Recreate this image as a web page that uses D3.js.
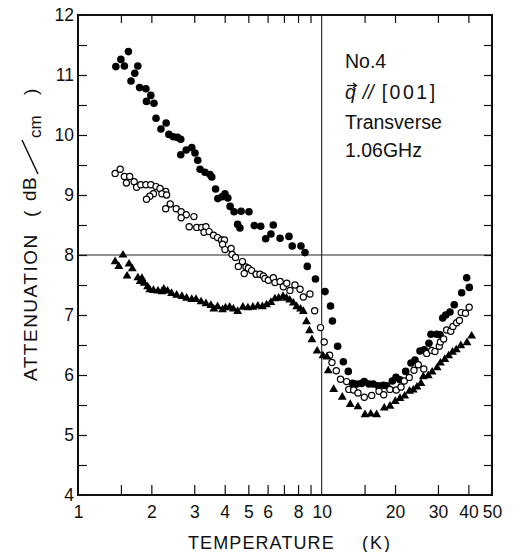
<!DOCTYPE html>
<html>
<head>
<meta charset="utf-8">
<script src="https://cdn.jsdelivr.net/npm/d3@7"></script>
<style>
  html, body { margin: 0; padding: 0; background: #fff; }
  svg { display: block; }
  text { font-family: "Liberation Sans", Arial, sans-serif; fill: #111; }
</style>
</head>
<body>
<svg id="chart" width="515" height="552"></svg>
<script>
// Ultrasonic attenuation vs temperature, sample No.4, transverse wave at 1.06 GHz
// Each series: [temperature (K), attenuation (dB/cm)]
const filledCircles = [
  [1.43,11.14],[1.50,11.26],[1.55,11.15],[1.61,11.39],[1.65,10.90],[1.71,11.03],[1.76,11.15],
  [1.79,10.79],[1.90,10.77],[1.91,10.56],[1.99,10.66],[2.05,10.53],[2.09,10.28],[2.19,10.10],
  [2.30,10.20],[2.36,10.01],[2.46,9.97],[2.56,9.96],[2.64,9.93],[2.64,9.67],[2.78,9.75],
  [2.93,9.79],[3.02,9.70],[3.10,9.58],[3.17,9.43],[3.32,9.38],[3.48,9.34],[3.54,9.30],
  [3.67,9.10],[3.75,8.94],[3.90,8.97],[4.01,9.02],[4.12,8.95],[4.21,8.81],[4.37,8.72],
  [4.67,8.73],[5.03,8.72],[4.52,8.51],[4.62,8.45],[5.29,8.49],[5.62,8.48],[5.89,8.27],
  [6.19,8.35],[6.33,8.50],[6.75,8.28],[7.34,8.31],[7.57,8.15],[8.22,8.15],[8.54,8.04],
  [8.73,7.81],[9.43,7.60],[10.32,7.39],[10.87,7.15],[11.07,6.90],[11.63,6.48],[12.27,6.22],
  [12.86,6.06],[13.41,5.86],[13.92,5.85],[14.59,5.86],[14.96,5.89],[15.64,5.85],[16.28,5.85],
  [17.07,5.82],[17.90,5.83],[18.48,5.82],[19.49,5.90],[20.18,5.96],[20.96,5.92],[22.12,6.06],
  [23.25,6.20],[24.15,6.25],[25.32,6.40],[26.36,6.42],[27.56,6.53],[28.09,6.68],[29.65,6.68],
  [30.59,6.67],[31.38,6.95],[32.28,7.00],[33.61,7.05],[35.00,7.17],[37.54,7.37],[39.36,7.62],
  [40.34,7.46]
];

const openCircles = [
  [1.42,9.36],[1.49,9.43],[1.55,9.31],[1.63,9.31],[1.58,9.20],[1.70,9.22],[1.74,9.13],
  [1.81,9.17],[1.90,9.17],[1.99,9.17],[2.09,9.14],[2.17,9.11],[2.29,9.06],[2.21,9.02],
  [2.31,9.00],[2.04,9.02],[1.97,8.98],[1.91,8.93],[2.39,8.85],[2.29,8.77],[2.53,8.77],
  [2.65,8.72],[2.78,8.67],[2.65,8.62],[2.99,8.64],[2.86,8.47],[3.07,8.46],[3.22,8.46],
  [3.35,8.47],[3.29,8.38],[3.45,8.39],[3.60,8.33],[3.74,8.29],[3.88,8.25],[3.99,8.25],
  [3.92,8.18],[4.01,8.09],[4.25,8.11],[4.29,8.01],[4.43,7.96],[4.55,7.81],[4.73,7.89],
  [4.89,7.80],[4.81,7.69],[5.00,7.78],[5.16,7.74],[5.38,7.68],[5.58,7.68],[5.76,7.65],
  [5.85,7.61],[6.04,7.58],[6.33,7.62],[6.43,7.54],[6.75,7.56],[6.96,7.47],[7.19,7.53],
  [7.41,7.41],[7.77,7.50],[8.15,7.43],[8.41,7.30],[8.95,7.35],[9.36,7.07],[9.89,6.79],
  [10.24,6.55],[10.78,6.33],[11.02,6.21],[11.48,6.07],[11.95,5.93],[12.66,5.89],[12.92,5.76],
  [13.53,5.75],[14.09,5.70],[14.96,5.63],[16.04,5.66],[17.19,5.73],[17.97,5.67],[19.06,5.76],
  [20.24,5.75],[21.16,5.80],[21.83,5.90],[22.88,5.96],[23.92,6.08],[24.91,6.17],[26.24,6.10],
  [26.97,6.36],[28.28,6.41],[29.17,6.39],[30.38,6.48],[30.72,6.55],[31.66,6.60],[32.58,6.75],
  [33.86,6.73],[34.58,6.81],[35.80,6.87],[36.76,6.91],[37.40,7.04],[38.90,7.03],[40.30,7.13]
];

const filledTriangles = [
  [1.42,7.89],[1.53,8.00],[1.47,7.81],[1.62,7.85],[1.67,7.77],[1.59,7.65],[1.76,7.62],
  [1.83,7.61],[1.80,7.56],[1.87,7.53],[1.93,7.47],[1.97,7.42],[2.04,7.41],[2.13,7.40],
  [2.21,7.39],[2.25,7.43],[2.33,7.40],[2.42,7.36],[2.54,7.33],[2.67,7.31],[2.79,7.28],
  [2.93,7.26],[3.05,7.26],[3.20,7.22],[3.35,7.19],[3.51,7.16],[3.61,7.10],[3.74,7.14],
  [3.92,7.09],[4.03,7.12],[4.19,7.13],[4.34,7.10],[4.52,7.06],[4.75,7.13],[4.98,7.12],
  [5.22,7.13],[5.47,7.15],[5.71,7.14],[5.94,7.17],[6.19,7.21],[6.43,7.27],[6.66,7.28],
  [6.94,7.31],[7.17,7.28],[7.39,7.25],[7.65,7.20],[7.90,7.14],[8.19,7.10],[8.41,7.06],
  [8.66,6.89],[8.91,6.74],[9.12,6.59],[9.58,6.40],[10.12,6.32],[10.51,6.30],[10.64,6.07],
  [11.20,5.76],[12.15,5.63],[13.10,5.51],[14.09,5.47],[15.06,5.34],[15.90,5.35],[16.81,5.34],
  [18.07,5.45],[19.06,5.48],[20.04,5.56],[20.96,5.61],[21.91,5.65],[22.93,5.73],[23.76,5.75],
  [24.61,5.80],[25.55,5.86],[26.12,5.97],[27.38,5.99],[28.40,6.05],[29.78,6.12],[30.72,6.20],
  [32.00,6.26],[33.20,6.32],[34.42,6.38],[35.67,6.42],[37.23,6.49],[39.48,6.54],[41.26,6.65]
];

// Axis ticks and labels
const xTickValues = [1.5, 2, 3, 4, 5, 6, 7, 8, 9, 15, 20, 30, 40];
const xLabelValues = [1, 2, 3, 4, 5, 6, 8, 10, 20, 30, 40, 50];
const yTickValues = [4.5, 5, 5.5, 6, 6.5, 7, 7.5, 8, 8.5, 9, 9.5, 10, 10.5, 11, 11.5];
const yLabelValues = [4, 5, 6, 7, 8, 9, 10, 11, 12];
const xDomain = [1, 50];
const yDomain = [4, 12];
const refTemperature = 10;
const refAttenuation = 8;

const svg = d3.select("#chart");
const padL = 78, padR = 492, padT = 15, padB = 495;

const x = d3.scaleLog().domain(xDomain).range([padL, padR]);
const y = d3.scaleLinear().domain(yDomain).range([padB, padT]);

// Reference cross lines
svg.append("line")
  .attr("x1", x(refTemperature)).attr("x2", x(refTemperature))
  .attr("y1", padT).attr("y2", padB)
  .attr("stroke", "#222").attr("stroke-width", 1.1);
svg.append("line")
  .attr("x1", padL).attr("x2", padR)
  .attr("y1", y(refAttenuation)).attr("y2", y(refAttenuation))
  .attr("stroke", "#222").attr("stroke-width", 1.1);

// Inward ticks on all four sides
function styleTicks(g) {
  g.select(".domain").remove();
  g.selectAll(".tick line").attr("stroke", "#111").attr("stroke-width", 1.2);
  g.selectAll(".tick text").remove();
}
svg.append("g").attr("transform", `translate(0,${padB})`)
  .call(d3.axisBottom(x).tickValues(xTickValues).tickSize(-10))
  .call(styleTicks);
svg.append("g").attr("transform", `translate(0,${padT})`)
  .call(d3.axisTop(x).tickValues(xTickValues).tickSize(-8))
  .call(styleTicks);
svg.append("g").attr("transform", `translate(${padL},0)`)
  .call(d3.axisLeft(y).tickValues(yTickValues).tickSize(-9))
  .call(styleTicks);
svg.append("g").attr("transform", `translate(${padR},0)`)
  .call(d3.axisRight(y).tickValues(yTickValues).tickSize(-8))
  .call(styleTicks);

// Tick labels
const xLab = svg.append("g").attr("transform", `translate(0,${padB})`)
  .call(d3.axisBottom(x).tickValues(xLabelValues).tickSize(0).tickPadding(11).tickFormat(d3.format("d")));
xLab.select(".domain").remove();
xLab.selectAll("text").style("font-size", "17.5px").attr("fill", "#111");

const yLab = svg.append("g").attr("transform", `translate(${padL},0)`)
  .call(d3.axisLeft(y).tickValues(yLabelValues).tickSize(0).tickPadding(4).tickFormat(d3.format("d")));
yLab.select(".domain").remove();
yLab.selectAll("text").style("font-size", "17.5px").attr("fill", "#111");
svg.selectAll("g").attr("font-family", null).attr("font-size", null);

// Frame
svg.append("rect")
  .attr("x", padL).attr("y", padT)
  .attr("width", padR - padL).attr("height", padB - padT)
  .attr("fill", "none").attr("stroke", "#111").attr("stroke-width", 2);

// Data markers
const plot = svg.append("g");
plot.selectAll("circle.filled").data(filledCircles).join("circle")
  .attr("class", "filled")
  .attr("cx", d => x(d[0])).attr("cy", d => y(d[1]))
  .attr("r", 3.8).attr("fill", "#000");
plot.selectAll("circle.open").data(openCircles).join("circle")
  .attr("class", "open")
  .attr("cx", d => x(d[0])).attr("cy", d => y(d[1]))
  .attr("r", 3.1).attr("fill", "#fff").attr("stroke", "#000").attr("stroke-width", 1.2);
const tri = d3.symbol().type(d3.symbolTriangle).size(34);
plot.selectAll("path.tri").data(filledTriangles).join("path")
  .attr("class", "tri")
  .attr("transform", d => `translate(${x(d[0])},${y(d[1])})`)
  .attr("d", tri).attr("fill", "#000");

// Annotation block
const ax = 345;
const ann = svg.append("g").style("font-size", "19.5px");
ann.append("text").attr("x", ax).attr("y", 68).text("No.4");
const qLine = ann.append("text").attr("x", ax).attr("y", 99);
qLine.append("tspan").style("font-style", "italic").text("q");
qLine.append("tspan").style("font-style", "italic").attr("dx", 7).text("//");
qLine.append("tspan").attr("dx", 8).style("letter-spacing", "2.5px").text("[001]");
// vector arrow over q
const qx = ax + 2, qy = 85.5;
ann.append("line").attr("x1", qx).attr("x2", qx + 9).attr("y1", qy).attr("y2", qy)
  .attr("stroke", "#111").attr("stroke-width", 1.2);
ann.append("path").attr("d", `M${qx + 6},${qy - 2.6} L${qx + 9.5},${qy} L${qx + 6},${qy + 2.6}`)
  .attr("fill", "none").attr("stroke", "#111").attr("stroke-width", 1.2);
ann.append("text").attr("x", ax).attr("y", 129).text("Transverse");
ann.append("text").attr("x", ax).attr("y", 157).text("1.06GHz");

// Axis titles
const xt = svg.append("text").attr("y", 549).style("font-size", "18px");
xt.append("tspan").attr("x", 188).style("letter-spacing", "1.1px").text("TEMPERATURE");
xt.append("tspan").attr("x", 362).style("letter-spacing", "2px").text("(K)");

// Rotated title; u runs along the text from the bottom of the axis upwards
const ytG = svg.append("g").attr("transform", "translate(37,381) rotate(-90)");
const yt = ytG.append("text").style("font-size", "19px");
yt.append("tspan").attr("x", 0).style("letter-spacing", "1.5px").text("ATTENUATION");
yt.append("tspan").attr("x", 164).text("(");
yt.append("tspan").attr("x", 180).attr("dy", -1.5).style("letter-spacing", "0.5px").text("dB");
yt.append("tspan").attr("x", 243).attr("dy", 5.5).style("font-size", "17px").text("cm");
yt.append("tspan").attr("x", 286).attr("dy", -4).text(")");
// long fraction slash between dB and cm
ytG.append("line")
  .attr("x1", 207).attr("y1", 1).attr("x2", 241).attr("y2", -15)
  .attr("stroke", "#111").attr("stroke-width", 1.5);
</script>
</body>
</html>
